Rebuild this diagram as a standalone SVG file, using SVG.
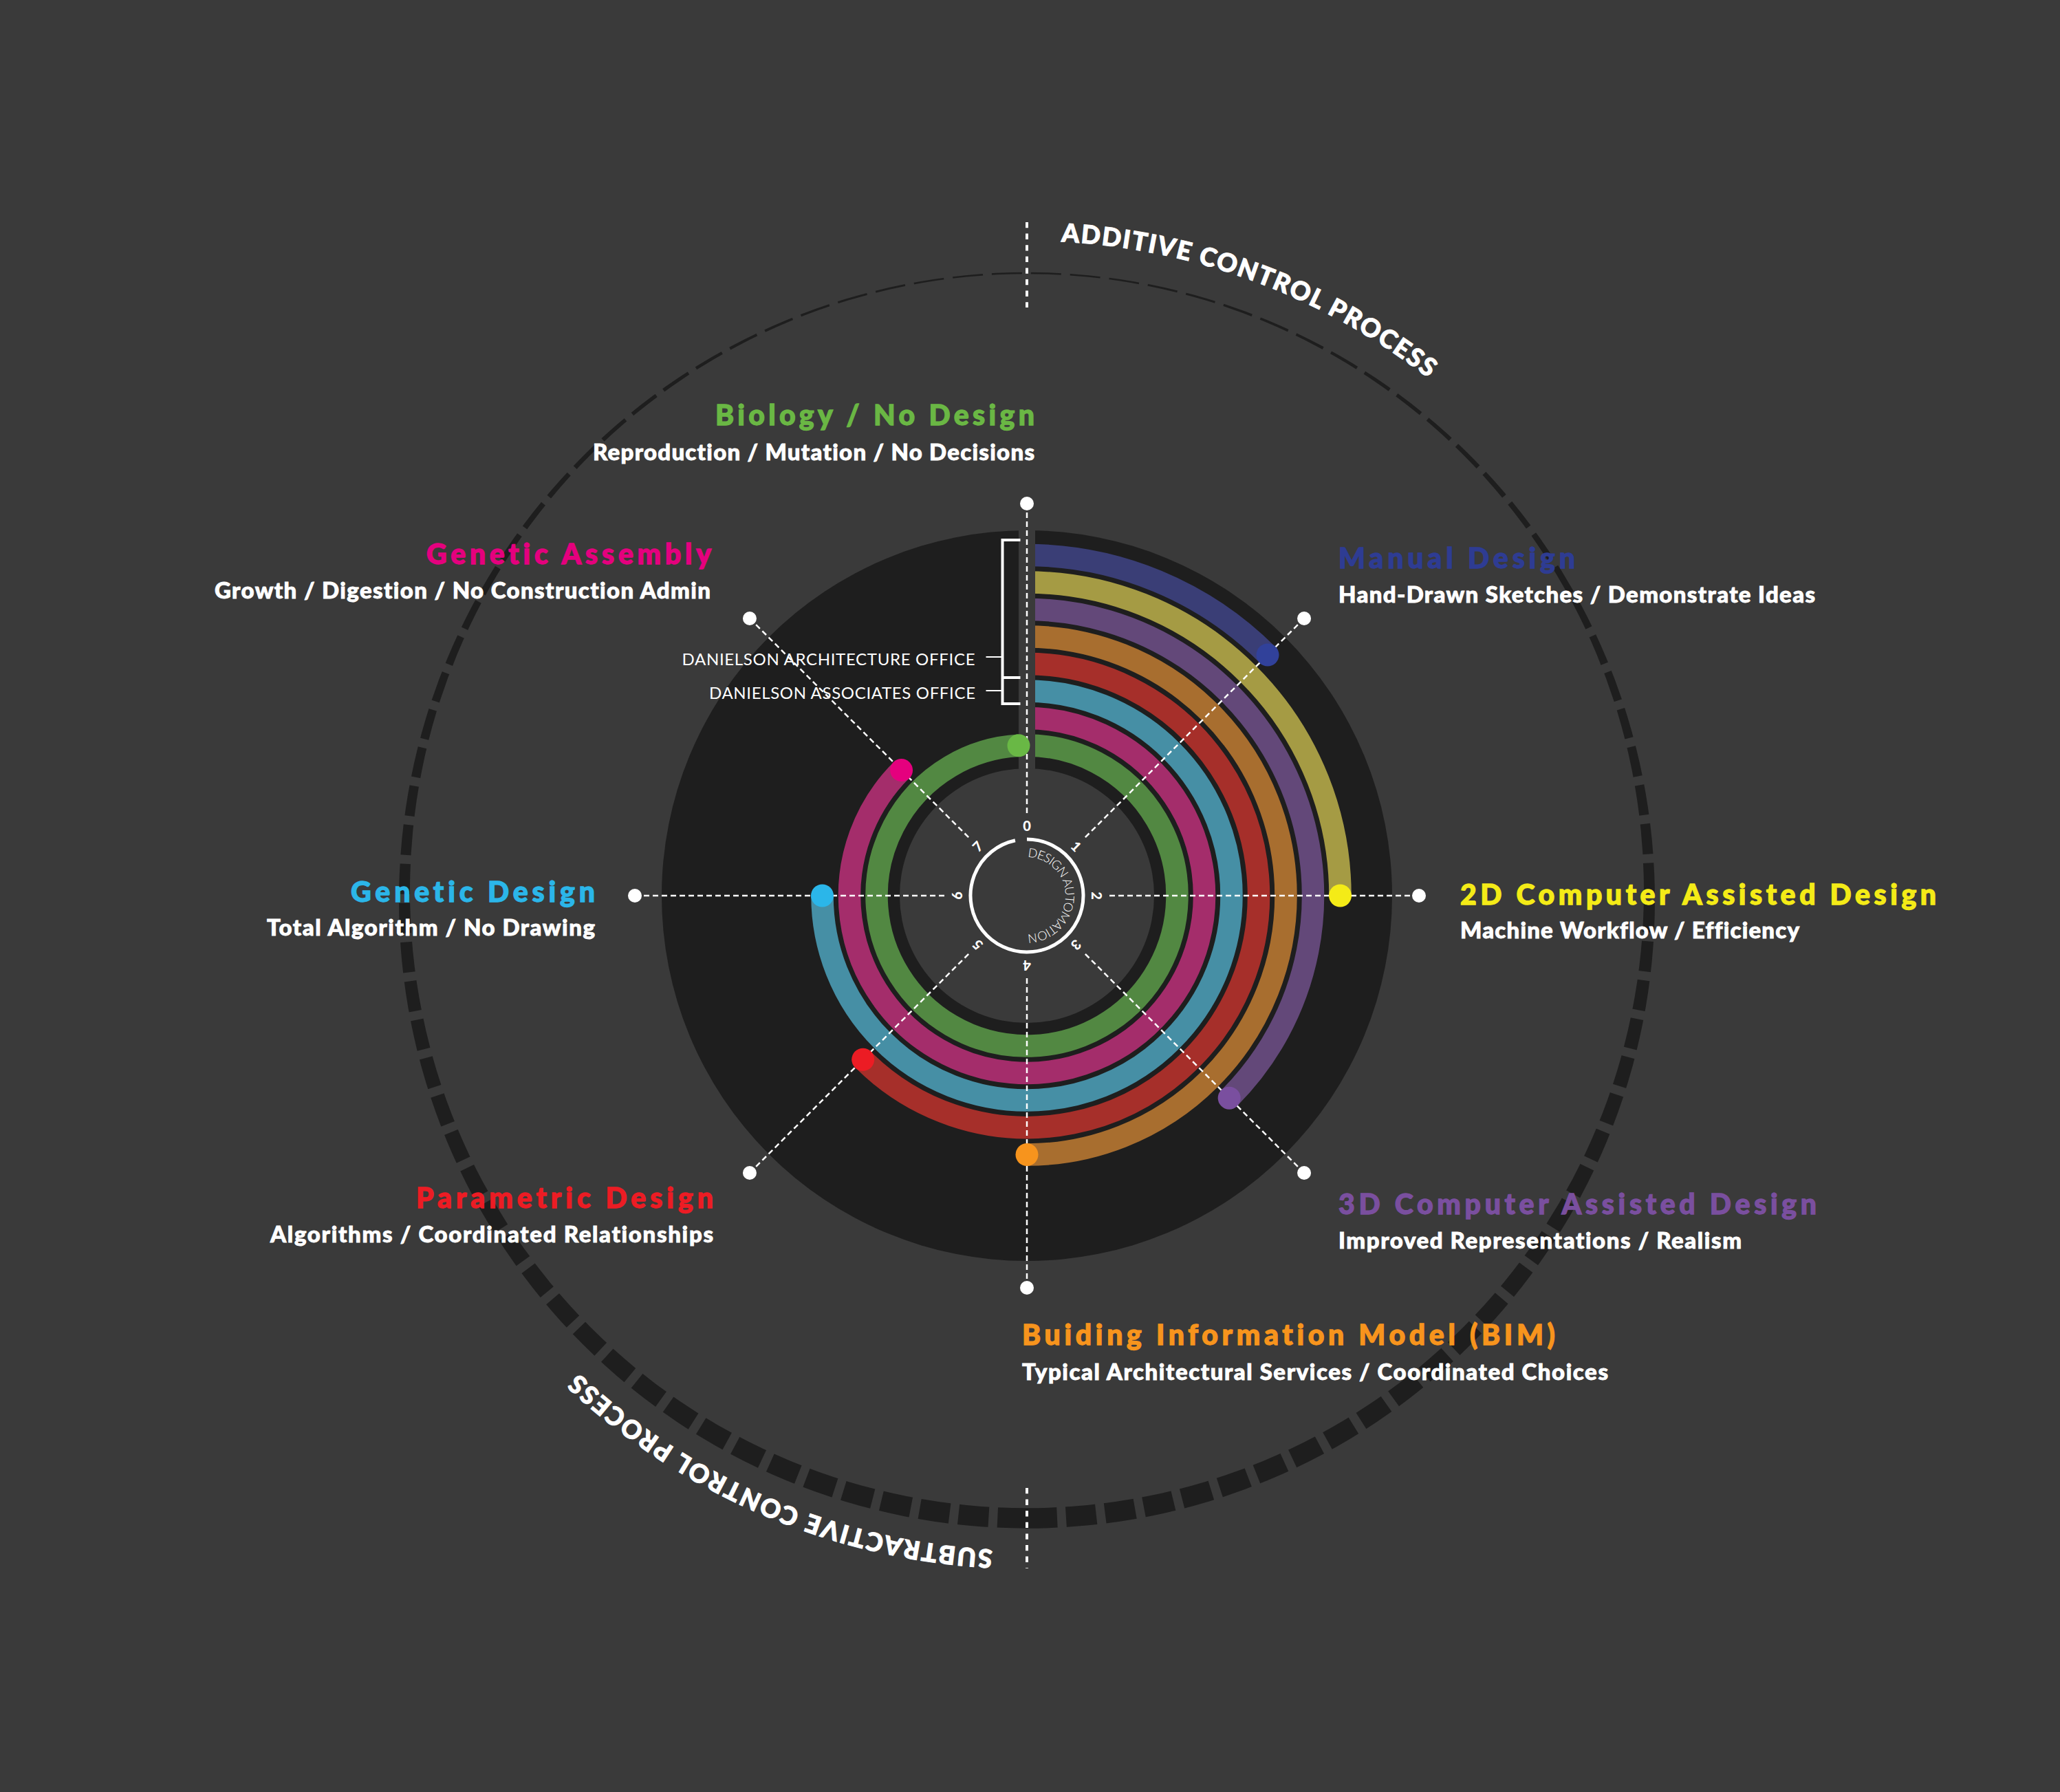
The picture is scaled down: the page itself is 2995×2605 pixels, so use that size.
<svg xmlns="http://www.w3.org/2000/svg" width="2995" height="2605" viewBox="0 0 2995 2605">
<defs>
<style>
text{font-variant-ligatures:none;font-feature-settings:"liga" 0,"clig" 0,"dlig" 0}
.title{font-family:Lato,"Liberation Sans",sans-serif;font-weight:900;font-size:41px;stroke-width:1.3}
.sub{font-family:Lato,"Liberation Sans",sans-serif;font-weight:900;font-size:33px;fill:#ffffff;stroke:#ffffff;stroke-width:0.9}
.lab{font-family:Lato,"Liberation Sans",sans-serif;font-weight:400;font-size:24px;fill:#ffffff}
.proc{font-family:Lato,"Liberation Sans",sans-serif;font-weight:900;font-size:37px;fill:#ffffff;stroke:#ffffff;stroke-width:1}
.num{font-family:Lato,"Liberation Sans",sans-serif;font-weight:900;font-size:20px;fill:#ffffff;text-anchor:middle}
.auto{font-family:Lato,"Liberation Sans",sans-serif;font-weight:300;font-size:18px;fill:#ffffff}
.band{fill:none;stroke-width:32.5}
.spoke{stroke:#ffffff;stroke-width:2.5;stroke-dasharray:8 5;fill:none}
.mark{stroke:#ffffff;stroke-width:4;stroke-dasharray:8.3 8.3;fill:none}
.brk{stroke:#ffffff;stroke-width:4;fill:none}
</style>
<mask id="dashMask" maskUnits="userSpaceOnUse" x="0" y="0" width="2995" height="2605">
<path d="M1493,2207 A905,905 0 1 0 1493,397 A905,905 0 1 0 1493,2207" fill="none" stroke="#ffffff" stroke-width="80" stroke-dasharray="44 13"/>
</mask>
<path id="addPath" d="M1542.8,351.3 A952,952 0 0 1 2317.5,826"/>
<path id="subPath" d="M1443.2,2252.7 A952,952 0 0 1 598.4,1627.6"/>
<path id="autoPath" d="M1494,1246 A56,56 0 1 1 1473.85,1354.62"/>
</defs>
<rect x="0" y="0" width="2995" height="2605" fill="#3a3a3a"/>

<g id="outer-ring">
<path d="M1493,395.75 A913,913 0 1 0 1493,2221.75 A913,913 0 1 0 1493,395.75 Z M1493,398.25 A897,897 0 1 0 1493,2192.25 A897,897 0 1 0 1493,398.25 Z" fill="#1e1e1e" fill-rule="evenodd" mask="url(#dashMask)"/>
</g>

<g id="process-labels">
<line class="mark" x1="1493" y1="323" x2="1493" y2="447"/>
<line class="mark" x1="1493" y1="2163" x2="1493" y2="2280"/>
<text class="proc"><textPath href="#addPath" textLength="578" lengthAdjust="spacing">ADDITIVE CONTROL PROCESS</textPath></text>
<text class="proc"><textPath href="#subPath" textLength="668" lengthAdjust="spacing">SUBTRACTIVE CONTROL PROCESS</textPath></text>
</g>

<g id="disc">
<circle cx="1493" cy="1302" r="531" fill="#1e1e1e"/>
</g>

<g id="bands">
<path id="band-green" class="band" stroke="#528842" d="M1493,1083.5 A218.5,218.5 0 1 1 1481,1083.83"/>
<path id="band-magenta" class="band" stroke="#a42d6b" d="M1493,1044 A258,258 0 1 1 1310.57,1119.57"/>
<path id="band-teal" class="band" stroke="#468fa5" d="M1493,1004.5 A297.5,297.5 0 1 1 1195.5,1302"/>
<path id="band-red" class="band" stroke="#a62f2a" d="M1493,965 A337,337 0 1 1 1254.71,1540.29"/>
<path id="band-orange" class="band" stroke="#a86e2f" d="M1493,925.5 A376.5,376.5 0 0 1 1869.5,1302 A376.5,376.5 0 0 1 1493,1678.5"/>
<path id="band-purple" class="band" stroke="#634879" d="M1493,886 A416,416 0 0 1 1787.16,1596.16"/>
<path id="band-yellow" class="band" stroke="#a59b44" d="M1493,846.5 A455.5,455.5 0 0 1 1948.5,1302"/>
<path id="band-blue" class="band" stroke="#3a3e76" d="M1493,807 A495,495 0 0 1 1843.02,951.98"/>
</g>

<g id="strip">
<rect x="1481" y="765" width="24" height="360" fill="#3a3a3a"/>
<circle cx="1493" cy="1302" r="185" fill="#3a3a3a"/>
</g>

<g id="bracket">
<path class="brk" d="M1483.5,785 H1457.5 V1023 H1483.5 M1457.5,985 H1483.5"/>
<line x1="1433.5" y1="955" x2="1457.5" y2="955" stroke="#ffffff" stroke-width="2"/>
<line x1="1433.5" y1="1004" x2="1457.5" y2="1004" stroke="#ffffff" stroke-width="2"/>
<text class="lab" x="991.5" y="967" textLength="426" lengthAdjust="spacing">DANIELSON ARCHITECTURE OFFICE</text>
<text class="lab" x="1031" y="1016" textLength="387" lengthAdjust="spacing">DANIELSON ASSOCIATES OFFICE</text>
</g>

<g id="connectors">
<line class="spoke" x1="1493" y1="732" x2="1493" y2="1182"/>
<line class="spoke" x1="1896.05" y1="898.95" x2="1577.85" y2="1217.15"/>
<line class="spoke" x1="2063" y1="1302" x2="1613" y2="1302"/>
<line class="spoke" x1="1896.05" y1="1705.05" x2="1577.85" y2="1386.85"/>
<line class="spoke" x1="1493" y1="1872" x2="1493" y2="1422"/>
<line class="spoke" x1="1089.95" y1="1705.05" x2="1408.15" y2="1386.85"/>
<line class="spoke" x1="923" y1="1302" x2="1373" y2="1302"/>
<line class="spoke" x1="1089.95" y1="898.95" x2="1408.15" y2="1217.15"/>
</g>

<g id="end-dots">
<circle cx="1481" cy="1083.83" r="16.5" fill="#69b845"/>
<circle cx="1310.57" cy="1119.57" r="16.5" fill="#e5007e"/>
<circle cx="1195.5" cy="1302" r="16.5" fill="#2bb6e9"/>
<circle cx="1254.71" cy="1540.29" r="16.5" fill="#ec1c24"/>
<circle cx="1493" cy="1678.5" r="16.5" fill="#f7941d"/>
<circle cx="1787.16" cy="1596.16" r="16.5" fill="#7a4f9f"/>
<circle cx="1948.5" cy="1302" r="16.5" fill="#f4eb17"/>
<circle cx="1843.02" cy="951.98" r="16.5" fill="#31419a"/>
</g>

<g id="spoke-dots" fill="#ffffff">
<circle cx="1493" cy="732" r="10"/>
<circle cx="1896.05" cy="898.95" r="10"/>
<circle cx="2063" cy="1302" r="10"/>
<circle cx="1896.05" cy="1705.05" r="10"/>
<circle cx="1493" cy="1872" r="10"/>
<circle cx="1089.95" cy="1705.05" r="10"/>
<circle cx="923" cy="1302" r="10"/>
<circle cx="1089.95" cy="898.95" r="10"/>
</g>

<g id="hub">
<path d="M1493,1220 A82,82 0 1 1 1475.95,1221.79" fill="none" stroke="#ffffff" stroke-width="5"/>
<text class="auto"><textPath href="#autoPath" textLength="174" lengthAdjust="spacing">DESIGN AUTOMATION</textPath></text>
<text class="num" x="1493" y="1208">0</text>
<text class="num" x="1493" y="1208" transform="rotate(45 1493 1302)">1</text>
<text class="num" x="1493" y="1208" transform="rotate(90 1493 1302)">2</text>
<text class="num" x="1493" y="1208" transform="rotate(135 1493 1302)">3</text>
<text class="num" x="1493" y="1208" transform="rotate(180 1493 1302)">4</text>
<text class="num" x="1493" y="1208" transform="rotate(225 1493 1302)">5</text>
<text class="num" x="1493" y="1208" transform="rotate(270 1493 1302)">6</text>
<text class="num" x="1493" y="1208" transform="rotate(315 1493 1302)">7</text>
</g>

<g id="node-biology">
<text class="title" x="1040" y="618" fill="#6ab744" stroke="#6ab744" textLength="464" lengthAdjust="spacing">Biology / No Design</text>
<text class="sub" x="862" y="669" textLength="642" lengthAdjust="spacing">Reproduction / Mutation / No Decisions</text>
</g>
<g id="node-genetic-assembly">
<text class="title" x="620" y="820" fill="#e5007e" stroke="#e5007e" textLength="414" lengthAdjust="spacing">Genetic Assembly</text>
<text class="sub" x="312" y="870" textLength="721" lengthAdjust="spacing">Growth / Digestion / No Construction Admin</text>
</g>
<g id="node-manual">
<text class="title" x="1946" y="826" fill="#2e3c93" stroke="#2e3c93" textLength="344" lengthAdjust="spacing">Manual Design</text>
<text class="sub" x="1946" y="876" textLength="693" lengthAdjust="spacing">Hand-Drawn Sketches / Demonstrate Ideas</text>
</g>
<g id="node-2d">
<text class="title" x="2123" y="1315" fill="#f4eb17" stroke="#f4eb17" textLength="692" lengthAdjust="spacing">2D Computer Assisted Design</text>
<text class="sub" x="2123" y="1364" textLength="493" lengthAdjust="spacing">Machine Workflow / Efficiency</text>
</g>
<g id="node-genetic-design">
<text class="title" x="510" y="1311" fill="#2bb6e9" stroke="#2bb6e9" textLength="355" lengthAdjust="spacing">Genetic Design</text>
<text class="sub" x="388" y="1360" textLength="477" lengthAdjust="spacing">Total Algorithm / No Drawing</text>
</g>
<g id="node-parametric">
<text class="title" x="605" y="1756" fill="#ec1c24" stroke="#ec1c24" textLength="432" lengthAdjust="spacing">Parametric Design</text>
<text class="sub" x="393" y="1806" textLength="644" lengthAdjust="spacing">Algorithms / Coordinated Relationships</text>
</g>
<g id="node-3d">
<text class="title" x="1946" y="1765" fill="#7a4f9f" stroke="#7a4f9f" textLength="695" lengthAdjust="spacing">3D Computer Assisted Design</text>
<text class="sub" x="1946" y="1815" textLength="586" lengthAdjust="spacing">Improved Representations / Realism</text>
</g>
<g id="node-bim">
<text class="title" x="1486" y="1955" fill="#f7941d" stroke="#f7941d" textLength="775" lengthAdjust="spacing">Buiding Information Model (BIM)</text>
<text class="sub" x="1486" y="2006" textLength="852" lengthAdjust="spacing">Typical Architectural Services / Coordinated Choices</text>
</g>
</svg>
